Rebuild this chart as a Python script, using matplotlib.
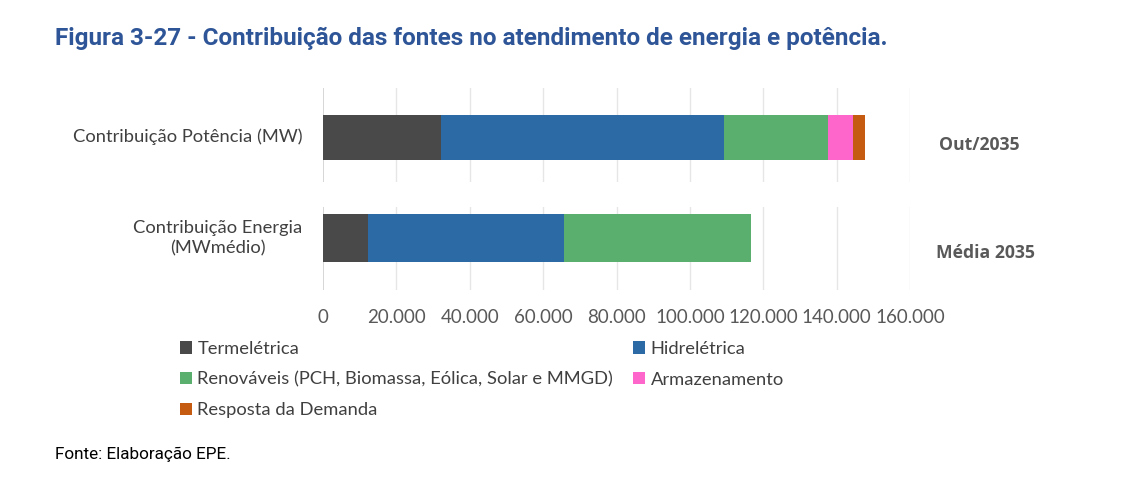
import matplotlib
matplotlib.use('Agg')
import matplotlib.pyplot as plt

categorias = ['Contribuição Potência (MW)', 'Contribuição Energia\n(MWmédio)']
periodos = ['Out/2035', 'Média 2035']
fontes = ['Termelétrica', 'Hidrelétrica',
          'Renováveis (PCH, Biomassa, Eólica, Solar e MMGD)',
          'Armazenamento', 'Resposta da Demanda']
cores = ['#494949', '#2c6aa5', '#5aae6e', '#ff66cc', '#c55a11']

# valores (MW / MWmedio)
potencia = [32050, 77200, 28450, 6800, 3250]
energia = [12300, 53400, 51000, 0, 0]
ticks = [0, 20000, 40000, 60000, 80000, 100000, 120000, 140000, 160000]

plt.rcParams['font.family'] = ['Lato', 'DejaVu Sans']
cinza = '#595959'

fig = plt.figure(figsize=(11.27, 4.97), dpi=100)
ax1 = fig.add_axes([0.2866, 0.634, 0.5209, 0.189])
ax2 = fig.add_axes([0.2866, 0.4165, 0.5209, 0.167])

def barra(ax, vals, y, h):
    left = 0
    hs = []
    for v, c in zip(vals, cores):
        hs.append(ax.barh(y, v, height=h, left=left, color=c, zorder=3))
        left += v
    return hs

handles = barra(ax1, potencia, -0.05, 0.96)
barra(ax2, energia, 0.25, 1.16)

for ax in (ax1, ax2):
    ax.set_xlim(0, 160000)
    ax.set_ylim(-1, 1)
    ax.set_xticks(ticks)
    for t in ticks[1:]:
        ax.axvline(t, color='#e6e6e6', lw=1, zorder=0)
    ax.axvline(0, color='#d0d0d0', lw=1.2, zorder=1)
    for s in ax.spines.values():
        s.set_visible(False)
    ax.set_yticks([])
    ax.tick_params(length=0)

ax1.set_xticklabels([])
ax2.set_xticklabels(['{:,}'.format(t).replace(',', '.') for t in ticks],
                    fontsize=13.5, color=cinza)
ax2.tick_params(axis='x', pad=14)

fig.text(303 / 1127, 1 - 137 / 497, categorias[0], ha='right', va='center',
         fontsize=13.2, color='#404040')
fig.text(218 / 1127, 1 - 238 / 497, categorias[1], ha='center', va='center',
         fontsize=13.2, color='#404040', linespacing=1.35)
fig.text(979 / 1127, 1 - 145 / 497, periodos[0], ha='center', va='center',
         fontsize=12.7, color=cinza, fontweight='bold', family=['Open Sans', 'DejaVu Sans'])
fig.text(986 / 1127, 1 - 253 / 497, periodos[1], ha='center', va='center',
         fontsize=12.7, color=cinza, fontweight='bold', family=['Open Sans', 'DejaVu Sans'])

fig.text(55 / 1127, 1 - 38 / 497,
         'Figura 3-27 - Contribuição das fontes no atendimento de energia e potência.',
         ha='left', va='center', fontsize=17.5, fontweight='bold', color='#2e5597',
         family=['Roboto', 'DejaVu Sans'])
fig.text(55 / 1127, 1 - 454 / 497, 'Fonte: Elaboração EPE.', ha='left', va='center',
         fontsize=12.3, color='black', family=['Roboto', 'DejaVu Sans'])

ordem = [0, 2, 4, 1, 3]
leg = fig.legend([handles[i] for i in ordem], [fontes[i] for i in ordem],
                 ncol=2, loc='upper left', bbox_to_anchor=(180 / 1127, 1 - 341 / 497),
                 frameon=False, fontsize=13.2, handlelength=0.65, handleheight=0.65,
                 handletextpad=0.3, columnspacing=1.1, labelspacing=0.8,
                 borderaxespad=0, borderpad=0)
for t in leg.get_texts():
    t.set_color('#404040')

fig.savefig('out.png', dpi=100)
